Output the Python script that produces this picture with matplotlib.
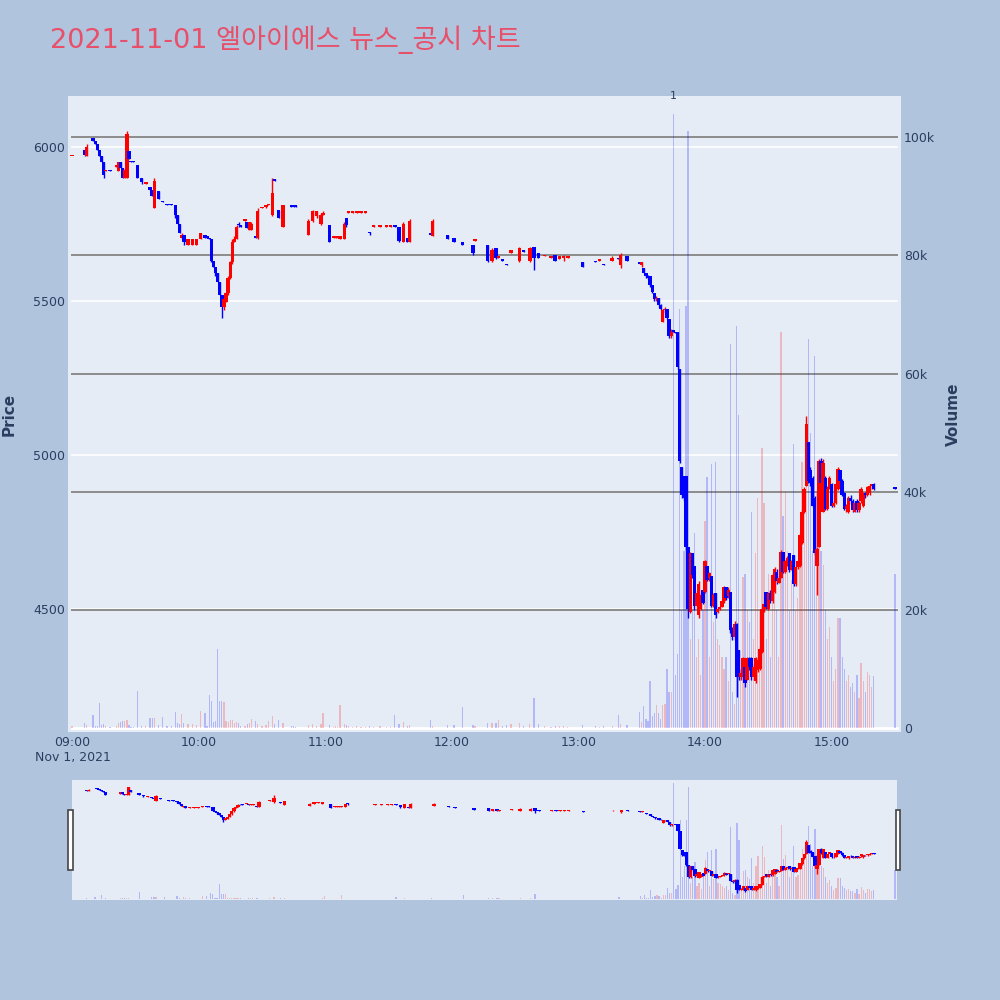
import matplotlib
matplotlib.use("Agg")
import matplotlib.pyplot as plt
from matplotlib.patches import Rectangle
import numpy as np

plt.rcParams['font.family'] = ['DejaVu Sans', 'Noto Sans CJK KR']

title = "2021-11-01 엘아이에스 뉴스_공시 차트"

# minute offsets from 09:00 (2021-11-01)
minutes = [
    0, 6, 7, 10, 11, 12, 13, 14, 15, 16, 18, 21, 22, 23, 24, 25, 26, 27, 28, 29,
    31, 33, 35, 37, 38, 39, 41, 43, 45, 47, 49, 50, 51, 52, 53, 55, 57, 59,
    61, 63, 64, 65, 66, 67, 68, 69, 70, 71, 72, 73, 74, 75, 76, 77, 78, 79, 80, 82,
    83, 84, 85, 87, 88, 90, 92, 93, 95, 96, 98, 100, 104, 105, 106, 112, 114, 116, 118, 119,
    122, 124, 125, 126, 127, 129, 130, 131, 133, 135, 137, 139, 141, 143, 146, 149, 151, 153, 155, 157,
    159, 160, 170, 171, 178,
    181, 185, 190, 191, 197, 199, 201, 202, 204, 206, 208, 212, 214, 217, 219, 221, 224, 227, 229, 231,
    233, 235,
    242, 248, 250, 252, 256, 259, 260, 263, 269, 270, 271, 272, 273, 274, 275, 276, 277, 278, 279, 280,
    281, 282, 283, 284, 285, 286, 287, 288, 289, 290, 291, 292, 293, 294, 295, 296, 297, 298, 299,
    300, 301, 302, 303, 304, 305, 306, 307, 308, 309, 310, 311, 312, 313, 314, 315, 316, 317, 318, 319,
    320, 321, 322, 323, 324, 325, 326, 327, 328, 329, 330, 331, 332, 333, 334, 335, 336, 337, 338, 339,
    340, 341, 342, 343, 344, 345, 346, 347, 348, 349, 350, 351, 352, 353, 354, 355, 356, 357, 358, 359,
    360, 361, 362, 363, 364, 365, 366, 367, 368, 369, 370, 371, 372, 373, 374, 375, 376, 377, 378, 379, 380, 390,
]

opens = [
    5970, 5990, 5970, 6030, 6020, 6010, 5990, 5970, 5950, 5920, 5925, 5935, 5920, 5950, 5930, 5900, 5900, 5985, 5955, 5955,
    5940, 5900, 5880, 5870, 5860, 5800, 5855, 5825, 5815, 5815, 5810, 5780, 5750, 5705, 5715, 5680, 5680, 5680,
    5700, 5715, 5710, 5705, 5700, 5630, 5610, 5590, 5560, 5520, 5480, 5495, 5525, 5575, 5625, 5690, 5700, 5750, 5745, 5760,
    5755, 5730, 5730, 5710, 5705, 5800, 5805, 5810, 5780, 5895, 5795, 5740, 5810, 5810, 5810, 5715, 5760, 5775, 5750, 5780,
    5745, 5705, 5705, 5705, 5700, 5700, 5770, 5785, 5785, 5785, 5785, 5785, 5725, 5740, 5740, 5740, 5740, 5745, 5740, 5690,
    5705, 5690, 5720, 5710, 5715,
    5705, 5690, 5680, 5695, 5680, 5630, 5670, 5640, 5635, 5620, 5655, 5630, 5665, 5630, 5675, 5655, 5645, 5640, 5650, 5635,
    5640, 5640,
    5625, 5630, 5630, 5620, 5630, 5640, 5615, 5645, 5625, 5615, 5605, 5590, 5580, 5580, 5550, 5525, 5505, 5510, 5485, 5430,
    5470, 5475, 5440, 5385, 5405, 5400, 5400, 5280, 4960, 4930, 4930, 4700, 4490, 4680, 4640, 4510, 4480, 4500, 4560,
    4555, 4640, 4600, 4605, 4510, 4550, 4490, 4500, 4505, 4525, 4570, 4540, 4555, 4430, 4410, 4450, 4365, 4280, 4280, 4310,
    4270, 4340, 4340, 4280, 4265, 4300, 4305, 4360, 4500, 4555, 4500, 4550, 4525, 4555, 4620, 4585, 4600, 4685, 4620, 4655,
    4680, 4625, 4675, 4580, 4635, 4640, 4715, 4815, 4900, 5040, 4950, 4925, 4860, 4640, 4700, 4980, 4815, 4925, 4825, 4890,
    4905, 4835, 4845, 4890, 4950, 4915, 4875, 4825, 4815, 4860, 4850, 4815, 4850, 4820, 4850, 4835, 4875, 4870, 4875, 4900, 4905, 4895,
]

highs = [
    5970, 5990, 6010, 6030, 6020, 6010, 5990, 5970, 5950, 5925, 5925, 5940, 5950, 5950, 5930, 5930, 6050, 5985, 5955, 5955,
    5940, 5900, 5885, 5870, 5860, 5900, 5855, 5825, 5815, 5815, 5810, 5780, 5750, 5720, 5715, 5700, 5700, 5700,
    5720, 5715, 5710, 5705, 5700, 5630, 5610, 5590, 5560, 5520, 5510, 5530, 5580, 5630, 5700, 5710, 5745, 5755, 5745, 5765,
    5755, 5755, 5755, 5710, 5800, 5805, 5810, 5815, 5900, 5895, 5795, 5810, 5810, 5810, 5810, 5765, 5795, 5790, 5785, 5790,
    5745, 5710, 5710, 5710, 5710, 5755, 5770, 5790, 5790, 5790, 5790, 5790, 5725, 5745, 5745, 5745, 5745, 5745, 5740, 5755,
    5705, 5765, 5720, 5765, 5715,
    5705, 5690, 5680, 5700, 5680, 5670, 5670, 5645, 5635, 5620, 5665, 5675, 5665, 5675, 5675, 5655, 5650, 5645, 5650, 5645,
    5650, 5645,
    5625, 5630, 5635, 5620, 5645, 5640, 5655, 5645, 5625, 5625, 5605, 5590, 5585, 5580, 5550, 5525, 5515, 5510, 5490, 5475,
    5480, 5475, 5440, 5410, 5405, 5400, 5400, 5280, 4960, 4930, 4930, 4700, 4685, 4680, 4640, 4560, 4590, 4550, 4560,
    4660, 4640, 4620, 4605, 4550, 4550, 4505, 4510, 4530, 4575, 4570, 4570, 4555, 4440, 4460, 4455, 4365, 4300, 4345, 4310,
    4345, 4345, 4345, 4320, 4345, 4340, 4375, 4505, 4520, 4555, 4555, 4560, 4615, 4635, 4630, 4605, 4690, 4685, 4660, 4670,
    4680, 4660, 4675, 4640, 4660, 4745, 4820, 4895, 5125, 5040, 4960, 4930, 4865, 4700, 4985, 4990, 4985, 4930, 4900, 4930,
    4910, 4850, 4910, 4960, 4950, 4920, 4880, 4840, 4865, 4870, 4855, 4850, 4855, 4850, 4895, 4880, 4880, 4900, 4905, 4905, 4910, 4895,
]

lows = [
    5970, 5970, 5970, 6020, 6010, 5990, 5970, 5950, 5900, 5920, 5920, 5935, 5920, 5930, 5900, 5900, 5900, 5960, 5950, 5950,
    5900, 5880, 5880, 5860, 5840, 5800, 5830, 5820, 5810, 5810, 5770, 5750, 5720, 5700, 5680, 5680, 5680, 5680,
    5700, 5705, 5705, 5700, 5625, 5610, 5580, 5560, 5520, 5445, 5470, 5495, 5520, 5570, 5620, 5690, 5700, 5740, 5740, 5760,
    5735, 5730, 5730, 5705, 5700, 5800, 5800, 5810, 5775, 5890, 5770, 5740, 5805, 5805, 5805, 5715, 5755, 5770, 5745, 5780,
    5690, 5705, 5705, 5705, 5700, 5700, 5740, 5785, 5785, 5785, 5785, 5785, 5715, 5740, 5740, 5740, 5740, 5740, 5690, 5690,
    5690, 5690, 5715, 5710, 5700,
    5690, 5680, 5650, 5695, 5625, 5625, 5635, 5640, 5630, 5615, 5655, 5625, 5660, 5625, 5600, 5640, 5645, 5640, 5630, 5635,
    5630, 5640,
    5610, 5625, 5630, 5615, 5630, 5635, 5605, 5630, 5620, 5610, 5590, 5575, 5570, 5545, 5525, 5500, 5500, 5480, 5470, 5430,
    5460, 5440, 5380, 5380, 5400, 5395, 5280, 4975, 4860, 4850, 4690, 4470, 4485, 4600, 4495, 4500, 4470, 4495, 4515,
    4550, 4590, 4590, 4505, 4505, 4470, 4485, 4495, 4505, 4520, 4530, 4535, 4420, 4400, 4400, 4215, 4270, 4270, 4275, 4245,
    4270, 4300, 4270, 4270, 4260, 4295, 4300, 4355, 4490, 4500, 4495, 4520, 4520, 4550, 4580, 4585, 4600, 4615, 4615, 4640,
    4620, 4625, 4575, 4575, 4630, 4635, 4710, 4810, 4900, 4910, 4900, 4830, 4675, 4545, 4700, 4900, 4815, 4820, 4820, 4890,
    4830, 4830, 4840, 4885, 4910, 4865, 4820, 4815, 4810, 4840, 4815, 4815, 4815, 4815, 4845, 4830, 4860, 4865, 4870, 4890, 4885, 4890,
]

closes = [
    5970, 5975, 6000, 6020, 6010, 5990, 5970, 5950, 5910, 5925, 5920, 5940, 5950, 5930, 5900, 5925, 6040, 5960, 5950, 5950,
    5900, 5885, 5885, 5860, 5840, 5890, 5830, 5820, 5810, 5810, 5780, 5750, 5720, 5715, 5690, 5700, 5700, 5700,
    5720, 5705, 5705, 5700, 5630, 5610, 5590, 5560, 5520, 5480, 5505, 5525, 5575, 5625, 5690, 5700, 5740, 5745, 5740, 5765,
    5735, 5755, 5750, 5705, 5790, 5805, 5810, 5815, 5850, 5890, 5770, 5810, 5805, 5805, 5805, 5760, 5790, 5790, 5780, 5785,
    5690, 5710, 5710, 5710, 5710, 5750, 5745, 5790, 5790, 5790, 5790, 5790, 5720, 5745, 5745, 5745, 5745, 5740, 5695, 5750,
    5690, 5760, 5715, 5760, 5700,
    5690, 5680, 5655, 5700, 5630, 5665, 5640, 5645, 5630, 5615, 5665, 5670, 5660, 5670, 5640, 5640, 5650, 5645, 5630, 5645,
    5645, 5645,
    5610, 5625, 5635, 5615, 5640, 5635, 5650, 5630, 5620, 5625, 5590, 5580, 5575, 5550, 5530, 5505, 5510, 5485, 5475, 5470,
    5475, 5445, 5385, 5400, 5400, 5395, 5285, 4980, 4870, 4860, 4700, 4500, 4680, 4610, 4510, 4550, 4580, 4545, 4520,
    4655, 4595, 4615, 4510, 4545, 4480, 4500, 4505, 4525, 4570, 4535, 4560, 4430, 4410, 4450, 4280, 4280, 4290, 4340, 4260,
    4340, 4310, 4280, 4310, 4340, 4335, 4370, 4500, 4515, 4505, 4550, 4530, 4610, 4630, 4590, 4600, 4685, 4620, 4655, 4665,
    4625, 4655, 4580, 4635, 4655, 4740, 4815, 4890, 5100, 4915, 4910, 4835, 4680, 4695, 4980, 4910, 4975, 4825, 4890, 4925,
    4835, 4845, 4905, 4955, 4915, 4870, 4825, 4835, 4860, 4850, 4820, 4845, 4820, 4845, 4890, 4875, 4870, 4895, 4900, 4905, 4890, 4890,
]

volumes = [
    300, 850, 500, 2100, 300, 400, 4200, 500, 700, 300, 200, 300, 850, 1000, 1100, 1200, 1300, 500, 200, 200,
    6200, 400, 300, 1600, 1600, 1700, 500, 1900, 300, 400, 2650, 800, 600, 2400, 900, 700, 600, 500,
    2800, 2500, 400, 5600, 4500, 1000, 1200, 13350, 4600, 4600, 4300, 1200, 1000, 1300, 1400, 900, 1000, 800, 400, 300,
    700, 900, 1500, 1200, 600, 400, 500, 1200, 2000, 600, 1300, 800, 300, 300, 200, 500, 600, 400, 700, 2500,
    500, 200, 300, 200, 3800, 600, 500, 300, 200, 300, 200, 200, 400, 200, 300, 200, 200, 2100, 600, 950,
    400, 500, 1250, 400, 500,
    500, 3600, 500, 400, 800, 900, 800, 1400, 300, 500, 600, 900, 300, 700, 5000, 600, 300, 200, 400, 300,
    300, 200,
    500, 300, 200, 300, 400, 2200, 600, 500, 2700, 1000, 3700, 1500, 1200, 8000, 2000, 2500, 3800, 2500, 1500, 3800,
    4000, 10000, 6000, 6000, 104000, 9000, 12500, 71000, 20000, 30000, 71500, 101000, 15000, 20000, 33000, 12000, 15000, 9000, 20000,
    35000, 42500, 12000, 44600, 18000, 45000, 15000, 14000, 12000, 10000, 12000, 8000, 65000, 6000, 4000, 68000, 53000, 10000, 25600, 26000,
    20000, 18000, 36600, 15000, 29600, 39000, 20000, 47400, 38000, 15000, 26000, 12000, 25000, 26000, 20000, 12000, 67000, 35800, 40000, 30000,
    20000, 25000, 48000, 20000, 22000, 30000, 45000, 40000, 52700, 65800, 50000, 30000, 63000, 40000, 45000, 30000, 27600, 20000, 15000, 17000,
    12000, 8000, 10000, 18600, 18600, 12000, 10000, 8000, 9000, 7000, 7600, 6000, 9000, 5000, 11000, 8000, 6000, 9500, 9000, 7000, 8700, 26000,
]

news_minutes = [285]
news_labels = ["1"]

hour_ticks = [0, 60, 120, 180, 240, 300, 360]
hour_labels = ["09:00", "10:00", "11:00", "12:00", "13:00", "14:00", "15:00"]
price_ticks = [4500, 5000, 5500, 6000]
volume_ticks = [0, 20000, 40000, 60000, 80000, 100000]
volume_labels = ["0", "20k", "40k", "60k", "80k", "100k"]

PRICE_RANGE = (4100, 6165)
VOL_RANGE = (-700, 107000)
RED = "#ff0000"
BLUE = "#0000ff"
TXT = "#2a3f5f"
PAGE = "#b0c4de"
PLOT = "#e5ecf6"

m = np.array(minutes, dtype=float)
o = np.array(opens, dtype=float)
h = np.array(highs, dtype=float)
l = np.array(lows, dtype=float)
c = np.array(closes, dtype=float)
v = np.array(volumes, dtype=float)
up = c >= o
cols = np.where(up, RED, BLUE)
vcols = [(1, 0, 0, 0.22) if u else (0, 0, 1, 0.22) for u in up]


def draw(ax_v, ax_p, xlim, bar_w, body_w, wick_lw):
    ax_v.bar(m, v, width=bar_w, color=vcols, linewidth=0, zorder=2)
    ax_v.set_ylim(*VOL_RANGE)
    ax_p.vlines(m, l, h, colors=cols, linewidth=wick_lw, zorder=3)
    body_lo = np.minimum(o, c)
    body_h = np.maximum(np.abs(c - o), 4)
    ax_p.bar(m, body_h, width=body_w, bottom=body_lo, color=cols, linewidth=0, zorder=4)
    ax_p.set_ylim(*PRICE_RANGE)
    for a in (ax_v, ax_p):
        a.set_xlim(*xlim)
        for s in a.spines.values():
            s.set_visible(False)


fig = plt.figure(figsize=(10, 10), dpi=100, facecolor=PAGE)

# main chart
ax_v = fig.add_axes([0.068, 0.268, 0.833, 0.636], facecolor=PLOT)
ax_p = ax_v.twinx()
draw(ax_v, ax_p, (-1.9, 392.9), 0.6, 1.6, 1.0)

# gridlines (drawn on the volume axes, behind the bars)
p0, p1 = PRICE_RANGE
v0, v1 = VOL_RANGE
for p in price_ticks:
    vy = v0 + (p - p0) / (p1 - p0) * (v1 - v0)
    ax_v.axhline(vy, xmin=0.005, xmax=0.995, color="white", lw=1.2, zorder=0.5)
for vt in volume_ticks[1:]:
    ax_v.axhline(vt, xmin=0.005, xmax=0.995, color="#8c8c8c", lw=1.4, zorder=0.6)
ax_v.axhline(0, xmin=0.005, xmax=0.995, color="white", lw=2, zorder=0.6)

ax_v.yaxis.tick_right()
ax_v.set_yticks(volume_ticks)
ax_v.set_yticklabels(volume_labels)
ax_p.yaxis.tick_left()
ax_p.set_yticks(price_ticks)
ax_p.set_yticklabels([str(p) for p in price_ticks])
ax_v.set_xticks(hour_ticks)
ax_v.set_xticklabels(hour_labels)
ax_p.set_xticks(hour_ticks)
ax_v.tick_params(axis="y", length=0, pad=2, labelsize=9, labelcolor=TXT)
ax_p.tick_params(axis="y", length=0, pad=2, labelsize=9, labelcolor=TXT)
ax_v.tick_params(axis="x", length=0, pad=3, labelsize=9, labelcolor=TXT)

for nm, lab in zip(news_minutes, news_labels):
    ax_v.text(nm, 1.0, lab, transform=ax_v.get_xaxis_transform(), ha="center", va="center",
              fontsize=8, color=TXT, zorder=6)

fig.text(0.073, 1 - 0.757, "Nov 1, 2021", ha="center", va="center", fontsize=9, color=TXT)
fig.text(0.009, 1 - 0.414, "Price", rotation=90, ha="center", va="center",
         fontsize=11, fontweight="bold", color=TXT)
fig.text(0.953, 1 - 0.414, "Volume", rotation=90, ha="center", va="center",
         fontsize=11, fontweight="bold", color=TXT)
fig.text(0.05, 1 - 0.040, title, ha="left", va="center", fontsize=19.5, color="#e8506a")

# range slider
sl_v = fig.add_axes([0.072, 0.100, 0.825, 0.120], facecolor=PLOT)
sl_p = sl_v.twinx()
draw(sl_v, sl_p, (-0.9, 391), 0.6, 1.6, 1.0)
for a in (sl_v, sl_p):
    a.set_xticks([])
    a.set_yticks([])

for hx in (0.068, 0.8955):
    fig.patches.append(Rectangle((hx, 1 - 0.870), 0.0045, 0.060, transform=fig.transFigure,
                                 facecolor="white", edgecolor="#444444", lw=1.2, zorder=10))

fig.savefig("out.png", dpi=100, facecolor=PAGE)
